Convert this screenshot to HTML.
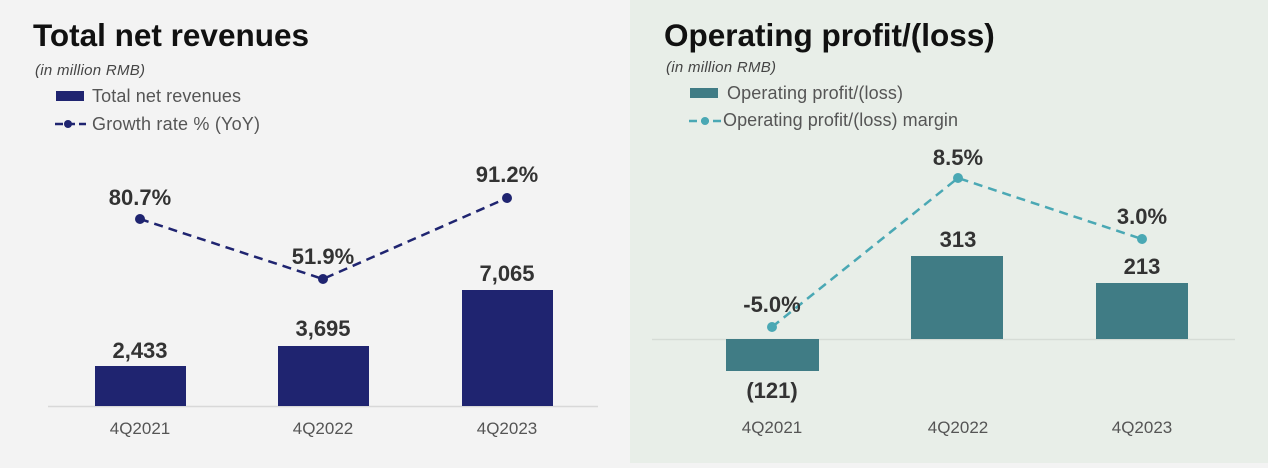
<!DOCTYPE html>
<html><head><style>
html,body{margin:0;padding:0;}
body{width:1268px;height:463px;overflow:hidden;background:#f3f3f3;font-family:"Liberation Sans",Arial,sans-serif;}
</style></head><body>
<svg width="1268" height="463" viewBox="0 0 1268 463" xmlns="http://www.w3.org/2000/svg" font-family="Liberation Sans, Arial, sans-serif">
<rect x="0" y="0" width="630" height="463" fill="#f3f3f3"/>
<rect x="630" y="0" width="638" height="463" fill="#e8eee8"/>
<!-- Left -->
<text x="33" y="46" font-size="31.5" font-weight="bold" fill="#111">Total net revenues</text>
<text x="35" y="75" font-size="15" font-style="italic" fill="#444" textLength="110">(in million RMB)</text>
<rect x="56" y="91" width="28" height="10" fill="#1f2470"/>
<text x="92" y="102" font-size="18" fill="#555" textLength="149">Total net revenues</text>
<line x1="55" y1="124" x2="86" y2="124" stroke="#1f2470" stroke-width="2.5" stroke-dasharray="8,4"/>
<circle cx="68" cy="124" r="4" fill="#1f2470"/>
<text x="92" y="130" font-size="18" fill="#555" textLength="168">Growth rate % (YoY)</text>
<line x1="48" y1="406.5" x2="598" y2="406.5" stroke="#d8d8d8" stroke-width="1.5"/>
<rect x="95" y="366" width="91" height="40" fill="#1f2470"/>
<rect x="278" y="346" width="91" height="60" fill="#1f2470"/>
<rect x="462" y="290" width="91" height="116" fill="#1f2470"/>
<g font-size="22" font-weight="bold" fill="#333" text-anchor="middle">
<text x="140" y="358">2,433</text><text x="323" y="336">3,695</text><text x="507" y="281">7,065</text>
<text x="140" y="205">80.7%</text><text x="323" y="264">51.9%</text><text x="507" y="182">91.2%</text>
</g>
<polyline points="140,219 323,279 507,198" fill="none" stroke="#1f2470" stroke-width="2.5" stroke-dasharray="9,6"/>
<circle cx="140" cy="219" r="5" fill="#1f2470"/><circle cx="323" cy="279" r="5" fill="#1f2470"/><circle cx="507" cy="198" r="5" fill="#1f2470"/>
<g font-size="17" fill="#555" text-anchor="middle">
<text x="140" y="434">4Q2021</text><text x="323" y="434">4Q2022</text><text x="507" y="434">4Q2023</text>
</g>
<!-- Right -->
<text x="664" y="46" font-size="31.5" font-weight="bold" fill="#111">Operating profit/(loss)</text>
<text x="666" y="72" font-size="15" font-style="italic" fill="#444" textLength="110">(in million RMB)</text>
<rect x="690" y="88" width="28" height="10" fill="#407c85"/>
<text x="727" y="99" font-size="18" fill="#555" textLength="176">Operating profit/(loss)</text>
<line x1="689" y1="121" x2="722" y2="121" stroke="#4aa8b4" stroke-width="2.5" stroke-dasharray="8,4"/>
<circle cx="705" cy="121" r="4" fill="#4aa8b4"/>
<text x="723" y="126" font-size="18" fill="#555" textLength="235">Operating profit/(loss) margin</text>
<line x1="652" y1="339.5" x2="1235" y2="339.5" stroke="#d6dcd6" stroke-width="1.5"/>
<rect x="726" y="339" width="93" height="32" fill="#407c85"/>
<rect x="911" y="256" width="92" height="83" fill="#407c85"/>
<rect x="1096" y="283" width="92" height="56" fill="#407c85"/>
<polyline points="772,327 958,178 1142,239" fill="none" stroke="#4aa8b4" stroke-width="2.5" stroke-dasharray="9,6"/>
<circle cx="772" cy="327" r="5" fill="#4aa8b4"/><circle cx="958" cy="178" r="5" fill="#4aa8b4"/><circle cx="1142" cy="239" r="5" fill="#4aa8b4"/>
<g font-size="22" font-weight="bold" fill="#333" text-anchor="middle">
<text x="772" y="312">-5.0%</text><text x="958" y="165">8.5%</text><text x="1142" y="224">3.0%</text>
<text x="958" y="247">313</text><text x="1142" y="274">213</text><text x="772" y="398">(121)</text>
</g>
<g font-size="17" fill="#555" text-anchor="middle">
<text x="772" y="433">4Q2021</text><text x="958" y="433">4Q2022</text><text x="1142" y="433">4Q2023</text>
</g>
</svg>
</body></html>
